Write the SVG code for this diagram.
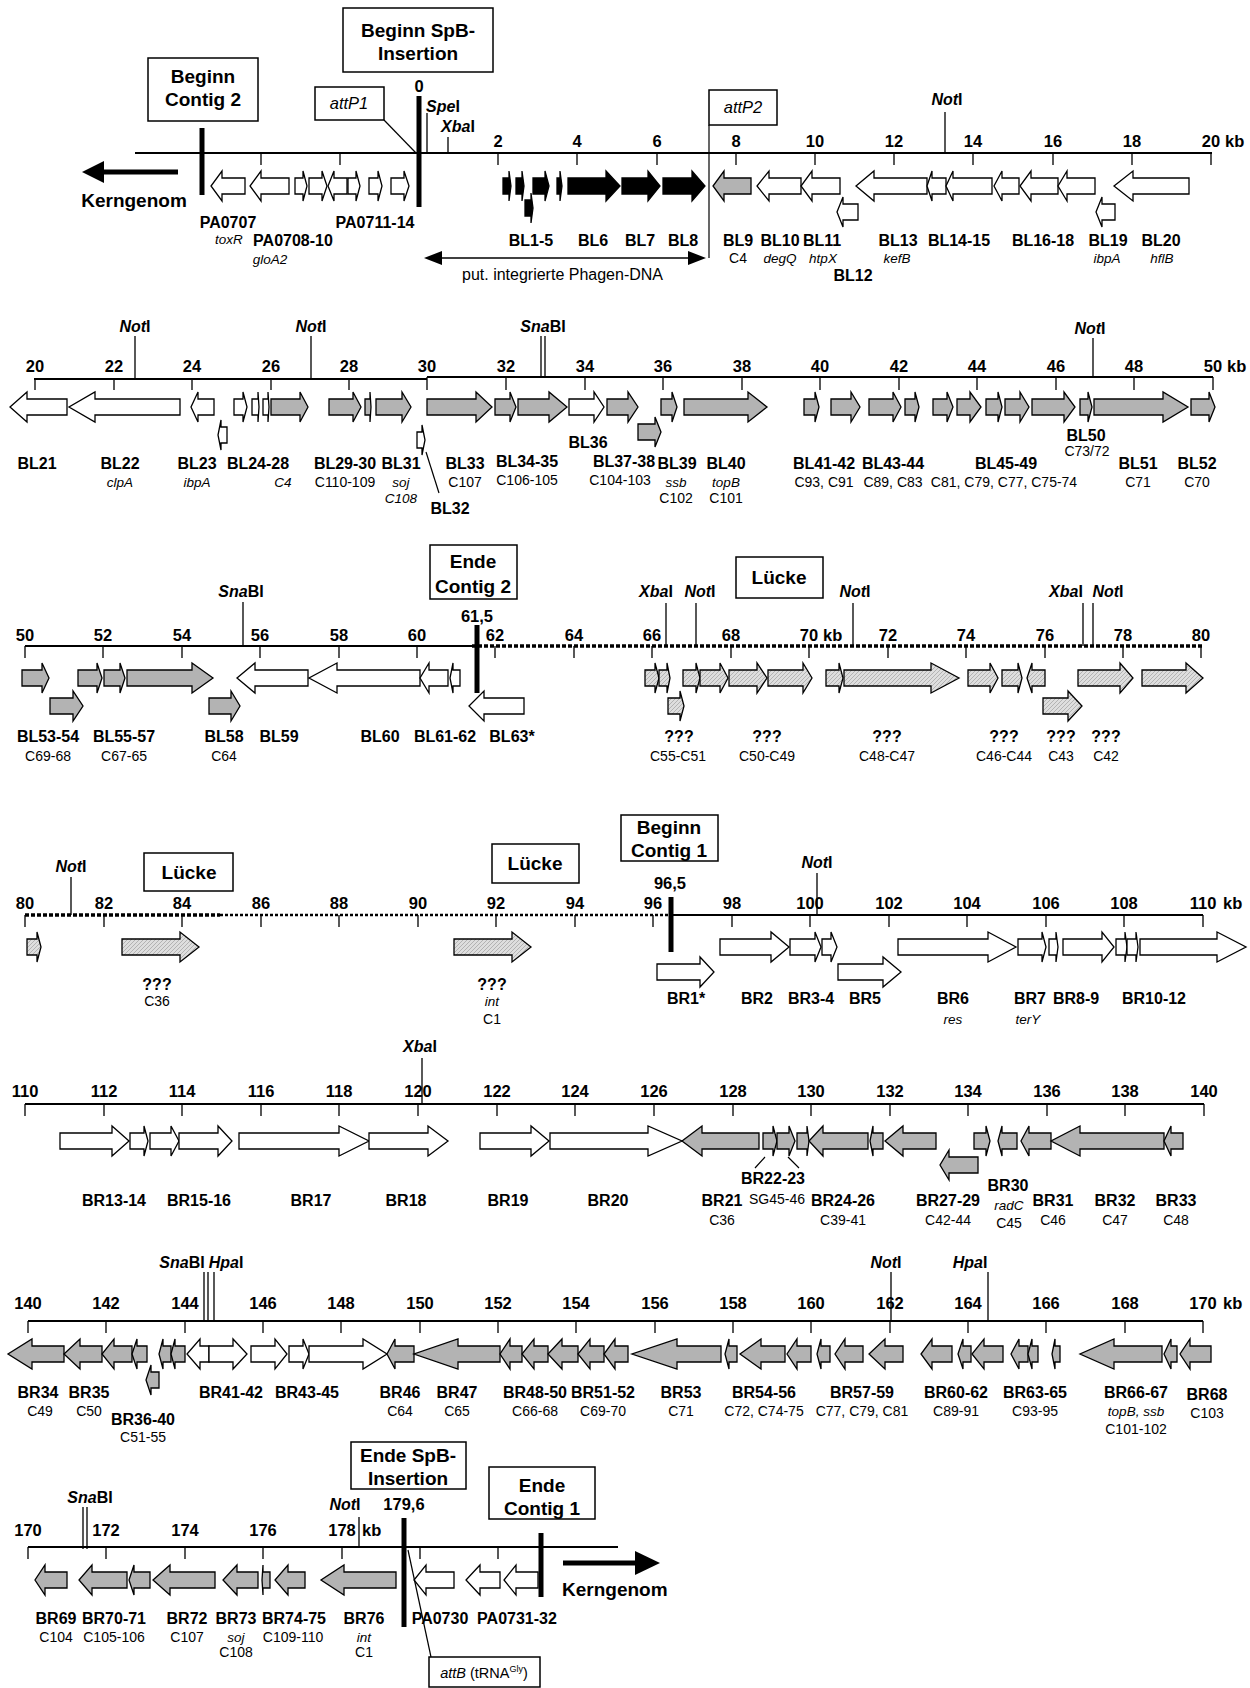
<svg xmlns="http://www.w3.org/2000/svg" width="1250" height="1688" viewBox="0 0 1250 1688">
<defs>
<pattern id="hatch" patternUnits="userSpaceOnUse" width="4" height="4">
<rect width="4" height="4" fill="#dedede"/>
<path d="M0 4L4 0M-1 1L1 -1M3 5L5 3" stroke="#a8a8a8" stroke-width="0.8"/>
</pattern>
<style>
text{font-family:"Liberation Sans",Arial,sans-serif;fill:#000}
.n{font-size:16.5px;font-weight:bold;text-anchor:middle}
.kb{font-size:16.5px;font-weight:bold}
.l{font-size:16px;font-weight:bold;text-anchor:middle}
.i{font-size:13.5px;font-style:italic;text-anchor:middle}
.c{font-size:14px;text-anchor:middle}
.s{font-size:16px;font-weight:bold;text-anchor:middle}
.b{font-size:19px;font-weight:bold;text-anchor:middle}
.bi{font-size:16.5px;font-style:italic;text-anchor:middle}
.ax{stroke:#000;stroke-width:2;fill:none}
.tk{stroke:#000;stroke-width:1.3;fill:none}
.dot{stroke:#000;stroke-width:3.5;stroke-dasharray:4 2;fill:none}
.dot2{stroke:#000;stroke-width:2.5;stroke-dasharray:3 2;fill:none}
.bar{stroke:#000;stroke-width:5}
.ln{stroke:#000;stroke-width:1.2;fill:none}
.box{fill:#fff;stroke:#000;stroke-width:1.5}
.w{fill:#fff;stroke:#000;stroke-width:1.3}
.g{fill:#b3b3b3;stroke:#000;stroke-width:1.3}
.k{fill:#000;stroke:#000;stroke-width:1.3}
.h{fill:url(#hatch);stroke:#000;stroke-width:1.3}
</style>
</defs>
<rect width="1250" height="1688" fill="#fff"/>

<!-- ================= ROW 1 ================= -->
<g id="row1-axis">
<path class="ax" d="M135 153H1212"/>
<path class="tk" d="M261 153v12M340 153v12M498 153v12M577 153v12M657 153v12M736 153v12M815 153v12M894 153v12M973 153v12M1053 153v12M1132 153v12M1211 153v12"/>
<path class="tk" d="M427 113V153M448 137V153M945 112V153"/>
<text class="n" x="419" y="92">0</text>
<text class="n" x="498" y="147">2</text><text class="n" x="577" y="147">4</text><text class="n" x="657" y="147">6</text><text class="n" x="736" y="147">8</text><text class="n" x="815" y="147">10</text><text class="n" x="894" y="147">12</text><text class="n" x="973" y="147">14</text><text class="n" x="1053" y="147">16</text><text class="n" x="1132" y="147">18</text><text class="n" x="1211" y="147">20</text><text class="kb" x="1225" y="147">kb</text>
<text class="s" x="443" y="112"><tspan font-style="italic">Spe</tspan>I</text>
<text class="s" x="458" y="132"><tspan font-style="italic">Xba</tspan>I</text>
<text class="s" x="947" y="105"><tspan font-style="italic">Not</tspan>I</text>
<line class="bar" x1="202" y1="128" x2="202" y2="195"/>
<line class="bar" x1="419" y1="96" x2="419" y2="207"/>
</g>
<g id="box-beginn-contig2"><rect class="box" x="148" y="58" width="110" height="63"/><text class="b" x="203" y="83">Beginn</text><text class="b" x="203" y="106">Contig 2</text></g>
<g id="box-beginn-spb"><rect class="box" x="343" y="8" width="150" height="64"/><text class="b" x="418" y="37">Beginn SpB-</text><text class="b" x="418" y="60">Insertion</text></g>
<g id="box-attP1"><rect class="box" x="315" y="87" width="69" height="33"/><text class="bi" x="349" y="109">attP1</text></g>
<g id="box-attP2"><rect class="box" x="709" y="90" width="68" height="35"/><text class="bi" x="743" y="113">attP2</text></g>
<g id="kerngenom-left"><text class="b" x="134" y="207">Kerngenom</text></g>
<g id="row1-genes" transform="translate(0,186)">
<g id="PA0707"><path class="w" d="M245 -8H222V-15L211 0L222 15V8H245Z"/></g>
<g id="PA0708-10"><path class="w" d="M289 -8H261V-15L250 0L261 15V8H289Z"/><path class="w" d="M295 -8H303V-15L307 0L303 15V8H295Z"/><path class="w" d="M309 -8H322V-15L327 0L322 15V8H309Z"/></g>
<g id="PA0711-14"><path class="w" d="M347 -8H334V-15L328 0L334 15V8H347Z"/><path class="w" d="M348 -8H356V-15L360 0L356 15V8H348Z"/><path class="w" d="M369 -8H378V-15L382 0L378 15V8H369Z"/><path class="w" d="M391 -8H404V-15L409 0L404 15V8H391Z"/></g>
<g id="BL1-5"><path class="k" d="M503 -8H509V-15L511 0L509 15V8H503Z"/><path class="k" d="M516 -8H522V-15L524 0L522 15V8H516Z"/><path class="k" d="M533 -8H545V-15L549 0L545 15V8H533Z"/><path class="k" d="M557 -8H560V-15L562 0L560 15V8H557Z"/><path class="k" transform="translate(0,22)" d="M525 -8H531V-15L533 0L531 15V8H525Z"/></g>
<g id="BL6"><path class="k" d="M568 -8H606V-15L620 0L606 15V8H568Z"/></g>
<g id="BL7"><path class="k" d="M622 -8H648V-15L660 0L648 15V8H622Z"/></g>
<g id="BL8"><path class="k" d="M663 -8H692V-15L705 0L692 15V8H663Z"/></g>
<g id="BL9"><path class="g" d="M751 -8H724V-15L713 0L724 15V8H751Z"/></g>
<g id="BL10"><path class="w" d="M801 -8H769V-15L757 0L769 15V8H801Z"/></g>
<g id="BL11"><path class="w" d="M840 -8H812V-15L801 0L812 15V8H840Z"/></g>
<g id="BL12"><path class="w" transform="translate(0,26)" d="M858 -8H843V-15L837 0L843 15V8H858Z"/></g>
<g id="BL13"><path class="w" d="M927 -8H874V-15L856 0L874 15V8H927Z"/></g>
<g id="BL14-15"><path class="w" d="M946 -8H932V-15L927 0L932 15V8H946Z"/><path class="w" d="M992 -8H953V-15L946 0L953 15V8H992Z"/></g>
<g id="BL16-18"><path class="w" d="M1019 -8H1002V-15L994 0L1002 15V8H1019Z"/><path class="w" d="M1058 -8H1031V-15L1020 0L1031 15V8H1058Z"/><path class="w" d="M1095 -8H1067V-15L1058 0L1067 15V8H1095Z"/></g>
<g id="BL19"><path class="w" transform="translate(0,26)" d="M1115 -8H1102V-15L1096 0L1102 15V8H1115Z"/></g>
<g id="BL20"><path class="w" d="M1189 -8H1133V-15L1114 0L1133 15V8H1189Z"/></g>
</g>
<g id="row1-labels">
<text class="l" x="228" y="228">PA0707</text><text class="i" x="229" y="244">toxR</text>
<text class="l" x="293" y="246">PA0708-10</text><text class="i" x="270" y="264">gloA2</text>
<text class="l" x="375" y="228">PA0711-14</text>
<text class="l" x="531" y="246">BL1-5</text><text class="l" x="593" y="246">BL6</text><text class="l" x="640" y="246">BL7</text><text class="l" x="683" y="246">BL8</text>
<text class="l" x="738" y="246">BL9</text><text class="c" x="738" y="263">C4</text>
<text class="l" x="780" y="246">BL10</text><text class="i" x="780" y="263">degQ</text>
<text class="l" x="822" y="246">BL11</text><text class="i" x="823" y="263">htpX</text>
<text class="l" x="853" y="281">BL12</text>
<text class="l" x="898" y="246">BL13</text><text class="i" x="897" y="263">kefB</text>
<text class="l" x="959" y="246">BL14-15</text>
<text class="l" x="1043" y="246">BL16-18</text>
<text class="l" x="1108" y="246">BL19</text><text class="i" x="1107" y="263">ibpA</text>
<text class="l" x="1161" y="246">BL20</text><text class="i" x="1162" y="263">hflB</text>
<text style="font-size:16px" x="462" y="280">put. integrierte Phagen-DNA</text>
</g>

<!-- ================= ROW 2 ================= -->
<g id="row2-axis">
<path class="ax" d="M34 379H427M427 377H1213"/>
<path class="tk" d="M35 379V390M114 379V390M192 379V390M271 379V390M349 379V390M427 377V390M506 377V390M585 377V390M663 377V390M742 377V390M820 377V390M899 377V390M977 377V390M1056 377V390M1134 377V390M1213 377V390"/>
<path class="tk" d="M135 336V379M311 336V379M1093 338V377"/>
<path class="tk" d="M541 336V377M545 336V377"/>
<text class="n" x="35" y="372">20</text><text class="n" x="114" y="372">22</text><text class="n" x="192" y="372">24</text><text class="n" x="271" y="372">26</text><text class="n" x="349" y="372">28</text><text class="n" x="427" y="372">30</text><text class="n" x="506" y="372">32</text><text class="n" x="585" y="372">34</text><text class="n" x="663" y="372">36</text><text class="n" x="742" y="372">38</text><text class="n" x="820" y="372">40</text><text class="n" x="899" y="372">42</text><text class="n" x="977" y="372">44</text><text class="n" x="1056" y="372">46</text><text class="n" x="1134" y="372">48</text><text class="n" x="1213" y="372">50</text><text class="kb" x="1227" y="372">kb</text>
<text class="s" x="135" y="332"><tspan font-style="italic">Not</tspan>I</text>
<text class="s" x="311" y="332"><tspan font-style="italic">Not</tspan>I</text>
<text class="s" x="543" y="332"><tspan font-style="italic">Sna</tspan>BI</text>
<text class="s" x="1090" y="334"><tspan font-style="italic">Not</tspan>I</text>
</g>
<g id="row2-genes" transform="translate(0,407)">
<g id="BL21"><path class="w" d="M67 -8H27V-15L10 0L27 15V8H67Z"/></g>
<g id="BL22"><path class="w" d="M180 -8H95V-15L69 0L95 15V8H180Z"/></g>
<g id="BL23"><path class="w" d="M214 -8H198V-15L191 0L198 15V8H214Z"/><path class="w" transform="translate(0,28)" d="M227 -8H221V-15L218 0L221 15V8H227Z"/></g>
<g id="BL24-28"><path class="w" d="M234 -8H243V-15L247 0L243 15V8H234Z"/><path class="w" d="M252 -8H258V-15L259 0L258 15V8H252Z"/><path class="w" d="M263 -8H268V-15L269 0L268 15V8H263Z"/><path class="g" d="M271 -8H300V-15L308 0L300 15V8H271Z"/></g>
<g id="BL29-30"><path class="g" d="M329 -8H353V-15L361 0L353 15V8H329Z"/><path class="g" d="M365 -8H370V-15L371 0L370 15V8H365Z"/></g>
<g id="BL31"><path class="g" d="M376 -8H402V-15L411 0L402 15V8H376Z"/></g>
<g id="BL32"><path class="w" transform="translate(0,33)" d="M417 -8H422V-15L425 0L422 15V8H417Z"/></g>
<g id="BL33"><path class="g" d="M427 -8H476V-15L492 0L476 15V8H427Z"/></g>
<g id="BL34-35"><path class="g" d="M495 -8H510V-15L516 0L510 15V8H495Z"/><path class="g" d="M518 -8H549V-15L567 0L549 15V8H518Z"/></g>
<g id="BL36"><path class="w" d="M569 -8H594V-15L604 0L594 15V8H569Z"/></g>
<g id="BL37-38"><path class="g" d="M607 -8H628V-15L638 0L628 15V8H607Z"/><path class="g" transform="translate(0,25)" d="M638 -8H655V-15L661 0L655 15V8H638Z"/></g>
<g id="BL39"><path class="g" d="M661 -8H672V-15L677 0L672 15V8H661Z"/></g>
<g id="BL40"><path class="g" d="M684 -8H748V-15L767 0L748 15V8H684Z"/></g>
<g id="BL41-42"><path class="g" d="M804 -8H815V-15L819 0L815 15V8H804Z"/><path class="g" d="M831 -8H851V-15L860 0L851 15V8H831Z"/></g>
<g id="BL43-44"><path class="g" d="M869 -8H893V-15L901 0L893 15V8H869Z"/><path class="g" d="M905 -8H915V-15L919 0L915 15V8H905Z"/></g>
<g id="BL45-49"><path class="g" d="M933 -8H947V-15L953 0L947 15V8H933Z"/><path class="g" d="M957 -8H970V-15L981 0L970 15V8H957Z"/><path class="g" d="M986 -8H998V-15L1002 0L998 15V8H986Z"/><path class="g" d="M1005 -8H1020V-15L1029 0L1020 15V8H1005Z"/><path class="g" d="M1032 -8H1064V-15L1075 0L1064 15V8H1032Z"/></g>
<g id="BL50"><path class="g" d="M1080 -8H1088V-15L1092 0L1088 15V8H1080Z"/></g>
<g id="BL51"><path class="g" d="M1094 -8H1163V-15L1188 0L1163 15V8H1094Z"/></g>
<g id="BL52"><path class="g" d="M1191 -8H1209V-15L1215 0L1209 15V8H1191Z"/></g>
</g>
<g id="row2-labels">
<text class="l" x="37" y="469">BL21</text>
<text class="l" x="120" y="469">BL22</text><text class="i" x="120" y="487">clpA</text>
<text class="l" x="197" y="469">BL23</text><text class="i" x="197" y="487">ibpA</text>
<text class="l" x="258" y="469">BL24-28</text><text class="i" x="283" y="487">C4</text>
<text class="l" x="345" y="469">BL29-30</text><text class="c" x="345" y="487">C110-109</text>
<text class="l" x="401" y="469">BL31</text><text class="i" x="401" y="487">soj</text><text class="i" x="401" y="503">C108</text>
<text class="l" x="450" y="514">BL32</text>
<text class="l" x="465" y="469">BL33</text><text class="c" x="465" y="487">C107</text>
<text class="l" x="527" y="467">BL34-35</text><text class="c" x="527" y="485">C106-105</text>
<text class="l" x="588" y="448">BL36</text>
<text class="l" x="624" y="467">BL37-38</text><text class="c" x="620" y="485">C104-103</text>
<text class="l" x="677" y="469">BL39</text><text class="i" x="676" y="487">ssb</text><text class="c" x="676" y="503">C102</text>
<text class="l" x="726" y="469">BL40</text><text class="i" x="726" y="487">topB</text><text class="c" x="726" y="503">C101</text>
<text class="l" x="824" y="469">BL41-42</text><text class="c" x="824" y="487">C93, C91</text>
<text class="l" x="893" y="469">BL43-44</text><text class="c" x="893" y="487">C89, C83</text>
<text class="l" x="1006" y="469">BL45-49</text><text class="c" x="1004" y="487">C81, C79, C77, C75-74</text>
<text class="l" x="1086" y="441">BL50</text><text class="c" x="1087" y="456">C73/72</text>
<text class="l" x="1138" y="469">BL51</text><text class="c" x="1138" y="487">C71</text>
<text class="l" x="1197" y="469">BL52</text><text class="c" x="1197" y="487">C70</text>
</g>

<!-- ================= ROW 3 ================= -->
<g id="row3-axis">
<path class="ax" d="M25 646H472"/>
<path class="dot" d="M472 646H1202"/>
<path class="tk" d="M25 646V658M103 646V658M182 646V658M260 646V658M339 646V658M417 646V658M495 646V658M574 646V658M652 646V658M731 646V658M809 646V658M888 646V658M966 646V658M1045 646V658M1123 646V658M1201 646V658"/>
<path class="tk" d="M243 602V646M666 603V646M696 603V646M853 603V646M1083 603V646M1093 603V646"/>
<text class="n" x="25" y="641">50</text><text class="n" x="103" y="641">52</text><text class="n" x="182" y="641">54</text><text class="n" x="260" y="641">56</text><text class="n" x="339" y="641">58</text><text class="n" x="417" y="641">60</text><text class="n" x="495" y="641">62</text><text class="n" x="574" y="641">64</text><text class="n" x="652" y="641">66</text><text class="n" x="731" y="641">68</text><text class="n" x="809" y="641">70</text><text class="kb" x="823" y="641">kb</text><text class="n" x="888" y="641">72</text><text class="n" x="966" y="641">74</text><text class="n" x="1045" y="641">76</text><text class="n" x="1123" y="641">78</text><text class="n" x="1201" y="641">80</text>
<text class="n" x="477" y="622">61,5</text>
<text class="s" x="241" y="597"><tspan font-style="italic">Sna</tspan>BI</text>
<text class="s" x="656" y="597"><tspan font-style="italic">Xba</tspan>I</text>
<text class="s" x="700" y="597"><tspan font-style="italic">Not</tspan>I</text>
<text class="s" x="855" y="597"><tspan font-style="italic">Not</tspan>I</text>
<text class="s" x="1066" y="597"><tspan font-style="italic">Xba</tspan>I</text>
<text class="s" x="1108" y="597"><tspan font-style="italic">Not</tspan>I</text>
<line class="bar" x1="477" y1="625" x2="477" y2="693"/>
</g>
<g id="box-ende-contig2"><rect class="box" x="430" y="545" width="87" height="54"/><text class="b" x="473" y="568">Ende</text><text class="b" x="473" y="593">Contig 2</text></g>
<g id="box-luecke-1"><rect class="box" x="736" y="557" width="87" height="41"/><text class="b" x="779" y="584">Lücke</text></g>
<g id="row3-genes" transform="translate(0,678)">
<g id="BL53-54"><path class="g" d="M22 -8H42V-15L49 0L42 15V8H22Z"/><path class="g" transform="translate(0,28)" d="M50 -8H73V-15L83 0L73 15V8H50Z"/></g>
<g id="BL55-57"><path class="g" d="M78 -8H97V-15L102 0L97 15V8H78Z"/><path class="g" d="M104 -8H120V-15L125 0L120 15V8H104Z"/><path class="g" d="M127 -8H192V-15L213 0L192 15V8H127Z"/></g>
<g id="BL58"><path class="g" transform="translate(0,28)" d="M209 -8H231V-15L240 0L231 15V8H209Z"/></g>
<g id="BL59"><path class="w" d="M308 -8H255V-15L237 0L255 15V8H308Z"/></g>
<g id="BL60"><path class="w" d="M420 -8H337V-15L309 0L337 15V8H420Z"/></g>
<g id="BL61-62"><path class="w" d="M448 -8H429V-15L420 0L429 15V8H448Z"/><path class="w" d="M460 -8H453V-15L450 0L453 15V8H460Z"/></g>
<g id="BL63"><path class="w" transform="translate(0,28)" d="M524 -8H484V-15L469 0L484 15V8H524Z"/></g>
<g id="C55-C51"><path class="h" d="M645 -8H655V-15L659 0L655 15V8H645Z"/><path class="h" d="M659 -8H667V-15L670 0L667 15V8H659Z"/><path class="h" transform="translate(0,28)" d="M668 -8H680V-15L684 0L680 15V8H668Z"/><path class="h" d="M683 -8H696V-15L700 0L696 15V8H683Z"/><path class="h" d="M700 -8H720V-15L728 0L720 15V8H700Z"/></g>
<g id="C50-C49"><path class="h" d="M729 -8H757V-15L767 0L757 15V8H729Z"/><path class="h" d="M768 -8H803V-15L812 0L803 15V8H768Z"/></g>
<g id="C48-C47"><path class="h" d="M826 -8H839V-15L843 0L839 15V8H826Z"/><path class="h" d="M844 -8H931V-15L959 0L931 15V8H844Z"/></g>
<g id="C46-C44"><path class="h" d="M968 -8H990V-15L998 0L990 15V8H968Z"/><path class="h" d="M1002 -8H1018V-15L1022 0L1018 15V8H1002Z"/><path class="h" d="M1045 -8H1032V-15L1027 0L1032 15V8H1045Z"/></g>
<g id="C43"><path class="h" transform="translate(0,28)" d="M1043 -8H1068V-15L1082 0L1068 15V8H1043Z"/></g>
<g id="C42"><path class="h" d="M1078 -8H1120V-15L1133 0L1120 15V8H1078Z"/><path class="h" d="M1142 -8H1186V-15L1203 0L1186 15V8H1142Z"/></g>
</g>
<g id="row3-labels">
<text class="l" x="48" y="742">BL53-54</text><text class="c" x="48" y="761">C69-68</text>
<text class="l" x="124" y="742">BL55-57</text><text class="c" x="124" y="761">C67-65</text>
<text class="l" x="224" y="742">BL58</text><text class="c" x="224" y="761">C64</text>
<text class="l" x="279" y="742">BL59</text>
<text class="l" x="380" y="742">BL60</text>
<text class="l" x="445" y="742">BL61-62</text>
<text class="l" x="512" y="742">BL63*</text>
<text class="l" x="679" y="742">???</text><text class="c" x="678" y="761">C55-C51</text>
<text class="l" x="767" y="742">???</text><text class="c" x="767" y="761">C50-C49</text>
<text class="l" x="887" y="742">???</text><text class="c" x="887" y="761">C48-C47</text>
<text class="l" x="1004" y="742">???</text><text class="c" x="1004" y="761">C46-C44</text>
<text class="l" x="1061" y="742">???</text><text class="c" x="1061" y="761">C43</text>
<text class="l" x="1106" y="742">???</text><text class="c" x="1106" y="761">C42</text>
</g>

<!-- ================= ROW 4 ================= -->
<g id="row4-axis">
<path class="dot" d="M25 915H220"/>
<path class="dot2" d="M220 915H671"/>
<path class="ax" d="M671 915H1203"/>
<path class="tk" d="M25 915V927M104 915V927M182 915V927M261 915V927M339 915V927M418 915V927M496 915V927M575 915V927M653 915V927M732 915V927M810 915V927M889 915V927M967 915V927M1046 915V927M1124 915V927M1203 915V927"/>
<path class="tk" d="M71 877V915M817 873V915"/>
<text class="n" x="25" y="909">80</text><text class="n" x="104" y="909">82</text><text class="n" x="182" y="909">84</text><text class="n" x="261" y="909">86</text><text class="n" x="339" y="909">88</text><text class="n" x="418" y="909">90</text><text class="n" x="496" y="909">92</text><text class="n" x="575" y="909">94</text><text class="n" x="653" y="909">96</text><text class="n" x="732" y="909">98</text><text class="n" x="810" y="909">100</text><text class="n" x="889" y="909">102</text><text class="n" x="967" y="909">104</text><text class="n" x="1046" y="909">106</text><text class="n" x="1124" y="909">108</text><text class="n" x="1203" y="909">110</text><text class="kb" x="1223" y="909">kb</text>
<text class="n" x="670" y="889">96,5</text>
<text class="s" x="71" y="872"><tspan font-style="italic">Not</tspan>I</text>
<text class="s" x="817" y="868"><tspan font-style="italic">Not</tspan>I</text>
<line class="bar" x1="671" y1="897" x2="671" y2="952"/>
</g>
<g id="box-luecke-2"><rect class="box" x="144" y="853" width="89" height="38"/><text class="b" x="189" y="879">Lücke</text></g>
<g id="box-luecke-3"><rect class="box" x="492" y="844" width="87" height="39"/><text class="b" x="535" y="870">Lücke</text></g>
<g id="box-beginn-contig1"><rect class="box" x="621" y="815" width="97" height="46"/><text class="b" x="669" y="834">Beginn</text><text class="b" x="669" y="857">Contig 1</text></g>
<g id="row4-genes" transform="translate(0,947)">
<g id="gap-gene-1"><path class="h" d="M27 -8H37V-15L41 0L37 15V8H27Z"/></g>
<g id="C36-gap"><path class="h" d="M122 -8H180V-15L199 0L180 15V8H122Z"/></g>
<g id="C1-gap"><path class="h" d="M454 -8H512V-15L531 0L512 15V8H454Z"/></g>
<g id="BR1"><path class="w" transform="translate(0,25)" d="M657 -8H700V-15L714 0L700 15V8H657Z"/></g>
<g id="BR2"><path class="w" d="M720 -8H771V-15L789 0L771 15V8H720Z"/></g>
<g id="BR3-4"><path class="w" d="M790 -8H815V-15L821 0L815 15V8H790Z"/><path class="w" d="M822 -8H831V-15L837 0L831 15V8H822Z"/></g>
<g id="BR5"><path class="w" transform="translate(0,25)" d="M838 -8H883V-15L901 0L883 15V8H838Z"/></g>
<g id="BR6"><path class="w" d="M898 -8H988V-15L1016 0L988 15V8H898Z"/></g>
<g id="BR7"><path class="w" d="M1018 -8H1042V-15L1046 0L1042 15V8H1018Z"/><path class="w" d="M1049 -8H1056V-15L1058 0L1056 15V8H1049Z"/></g>
<g id="BR8-9"><path class="w" d="M1063 -8H1102V-15L1114 0L1102 15V8H1063Z"/></g>
<g id="BR10-12"><path class="w" d="M1116 -8H1125V-15L1127 0L1125 15V8H1116Z"/><path class="w" d="M1127 -8H1136V-15L1138 0L1136 15V8H1127Z"/><path class="w" d="M1140 -8H1217V-15L1246 0L1217 15V8H1140Z"/></g>
</g>
<g id="row4-labels">
<text class="l" x="157" y="990">???</text><text class="c" x="157" y="1006">C36</text>
<text class="l" x="492" y="990">???</text><text class="i" x="492" y="1006">int</text><text class="c" x="492" y="1024">C1</text>
<text class="l" x="686" y="1004">BR1*</text>
<text class="l" x="757" y="1004">BR2</text>
<text class="l" x="811" y="1004">BR3-4</text>
<text class="l" x="865" y="1004">BR5</text>
<text class="l" x="953" y="1004">BR6</text><text class="i" x="953" y="1024">res</text>
<text class="l" x="1030" y="1004">BR7</text><text class="i" x="1028" y="1024">terY</text>
<text class="l" x="1076" y="1004">BR8-9</text>
<text class="l" x="1154" y="1004">BR10-12</text>
</g>

<!-- ================= ROW 5 ================= -->
<g id="row5-axis">
<path class="ax" d="M25 1104H1204"/>
<path class="tk" d="M25 1104V1116M104 1104V1116M182 1104V1116M261 1104V1116M339 1104V1116M418 1104V1116M497 1104V1116M575 1104V1116M654 1104V1116M733 1104V1116M811 1104V1116M890 1104V1116M968 1104V1116M1047 1104V1116M1125 1104V1116M1204 1104V1116"/>
<path class="tk" d="M422 1058V1104"/>
<text class="n" x="25" y="1097">110</text><text class="n" x="104" y="1097">112</text><text class="n" x="182" y="1097">114</text><text class="n" x="261" y="1097">116</text><text class="n" x="339" y="1097">118</text><text class="n" x="418" y="1097">120</text><text class="n" x="497" y="1097">122</text><text class="n" x="575" y="1097">124</text><text class="n" x="654" y="1097">126</text><text class="n" x="733" y="1097">128</text><text class="n" x="811" y="1097">130</text><text class="n" x="890" y="1097">132</text><text class="n" x="968" y="1097">134</text><text class="n" x="1047" y="1097">136</text><text class="n" x="1125" y="1097">138</text><text class="n" x="1204" y="1097">140</text>
<text class="s" x="420" y="1052"><tspan font-style="italic">Xba</tspan>I</text>
</g>
<g id="row5-genes" transform="translate(0,1141)">
<g id="BR13-14"><path class="w" d="M60 -8H112V-15L129 0L112 15V8H60Z"/><path class="w" d="M130 -8H144V-15L148 0L144 15V8H130Z"/></g>
<g id="BR15-16"><path class="w" d="M150 -8H171V-15L179 0L171 15V8H150Z"/><path class="w" d="M179 -8H218V-15L232 0L218 15V8H179Z"/></g>
<g id="BR17"><path class="w" d="M239 -8H339V-15L369 0L339 15V8H239Z"/></g>
<g id="BR18"><path class="w" d="M369 -8H428V-15L448 0L428 15V8H369Z"/></g>
<g id="BR19"><path class="w" d="M480 -8H531V-15L549 0L531 15V8H480Z"/></g>
<g id="BR20"><path class="w" d="M550 -8H648V-15L682 0L648 15V8H550Z"/></g>
<g id="BR21"><path class="g" d="M759 -8H702V-15L682 0L702 15V8H759Z"/></g>
<g id="BR22-23"><path class="g" d="M763 -8H773V-15L777 0L773 15V8H763Z"/><path class="g" d="M777 -8H789V-15L795 0L789 15V8H777Z"/></g>
<g id="BR24-26"><path class="g" d="M797 -8H807V-15L809 0L807 15V8H797Z"/><path class="g" d="M868 -8H823V-15L809 0L823 15V8H868Z"/><path class="g" d="M883 -8H873V-15L870 0L873 15V8H883Z"/></g>
<g id="BR27-29"><path class="g" d="M936 -8H903V-15L885 0L903 15V8H936Z"/><path class="g" transform="translate(0,24)" d="M978 -8H949V-15L940 0L949 15V8H978Z"/><path class="g" d="M974 -8H986V-15L990 0L986 15V8H974Z"/></g>
<g id="BR30"><path class="g" d="M1017 -8H1002V-15L998 0L1002 15V8H1017Z"/></g>
<g id="BR31"><path class="g" d="M1051 -8H1029V-15L1021 0L1029 15V8H1051Z"/></g>
<g id="BR32"><path class="g" d="M1164 -8H1080V-15L1051 0L1080 15V8H1164Z"/></g>
<g id="BR33"><path class="g" d="M1183 -8H1171V-15L1164 0L1171 15V8H1183Z"/></g>
</g>
<g id="row5-labels">
<text class="l" x="114" y="1206">BR13-14</text>
<text class="l" x="199" y="1206">BR15-16</text>
<text class="l" x="311" y="1206">BR17</text>
<text class="l" x="406" y="1206">BR18</text>
<text class="l" x="508" y="1206">BR19</text>
<text class="l" x="608" y="1206">BR20</text>
<text class="l" x="722" y="1206">BR21</text><text class="c" x="722" y="1225">C36</text>
<text class="l" x="773" y="1184">BR22-23</text><text class="c" x="777" y="1204">SG45-46</text>
<text class="l" x="843" y="1206">BR24-26</text><text class="c" x="843" y="1225">C39-41</text>
<text class="l" x="948" y="1206">BR27-29</text><text class="c" x="948" y="1225">C42-44</text>
<text class="l" x="1008" y="1191">BR30</text><text class="i" x="1009" y="1210">radC</text><text class="c" x="1009" y="1228">C45</text>
<text class="l" x="1053" y="1206">BR31</text><text class="c" x="1053" y="1225">C46</text>
<text class="l" x="1115" y="1206">BR32</text><text class="c" x="1115" y="1225">C47</text>
<text class="l" x="1176" y="1206">BR33</text><text class="c" x="1176" y="1225">C48</text>
</g>

<!-- ================= ROW 6 ================= -->
<g id="row6-axis">
<path class="ax" d="M28 1321H1203"/>
<path class="tk" d="M28 1321V1333M106 1321V1333M185 1321V1333M263 1321V1333M341 1321V1333M420 1321V1333M498 1321V1333M576 1321V1333M655 1321V1333M733 1321V1333M811 1321V1333M890 1321V1333M968 1321V1333M1046 1321V1333M1125 1321V1333M1203 1321V1333"/>
<path class="tk" d="M204 1272V1321M208 1272V1321M214 1272V1321M891 1272V1321M988 1272V1321"/>
<text class="n" x="28" y="1309">140</text><text class="n" x="106" y="1309">142</text><text class="n" x="185" y="1309">144</text><text class="n" x="263" y="1309">146</text><text class="n" x="341" y="1309">148</text><text class="n" x="420" y="1309">150</text><text class="n" x="498" y="1309">152</text><text class="n" x="576" y="1309">154</text><text class="n" x="655" y="1309">156</text><text class="n" x="733" y="1309">158</text><text class="n" x="811" y="1309">160</text><text class="n" x="890" y="1309">162</text><text class="n" x="968" y="1309">164</text><text class="n" x="1046" y="1309">166</text><text class="n" x="1125" y="1309">168</text><text class="n" x="1203" y="1309">170</text><text class="kb" x="1223" y="1309">kb</text>
<text class="s" x="182" y="1268"><tspan font-style="italic">Sna</tspan>BI</text>
<text class="s" x="226" y="1268"><tspan font-style="italic">Hpa</tspan>I</text>
<text class="s" x="886" y="1268"><tspan font-style="italic">Not</tspan>I</text>
<text class="s" x="970" y="1268"><tspan font-style="italic">Hpa</tspan>I</text>
</g>
<g id="row6-genes" transform="translate(0,1354)">
<g id="BR34"><path class="g" d="M64 -8H32V-15L8 0L32 15V8H64Z"/></g>
<g id="BR35"><path class="g" d="M102 -8H80V-15L64 0L80 15V8H102Z"/></g>
<g id="BR36-40"><path class="g" d="M132 -8H114V-15L102 0L114 15V8H132Z"/><path class="g" d="M147 -8H137V-15L132 0L137 15V8H147Z"/><path class="g" transform="translate(0,26)" d="M159 -8H151V-15L146 0L151 15V8H159Z"/><path class="g" d="M171 -8H163V-15L159 0L163 15V8H171Z"/><path class="g" d="M185 -8H175V-15L171 0L175 15V8H185Z"/></g>
<g id="BR41-42"><path class="w" d="M209 -8H200V-15L187 0L200 15V8H209Z"/><path class="w" d="M209 -8H233V-15L247 0L233 15V8H209Z"/></g>
<g id="BR43-45"><path class="w" d="M251 -8H275V-15L287 0L275 15V8H251Z"/><path class="w" d="M289 -8H303V-15L309 0L303 15V8H289Z"/><path class="w" d="M309 -8H363V-15L387 0L363 15V8H309Z"/></g>
<g id="BR46"><path class="g" d="M414 -8H395V-15L387 0L395 15V8H414Z"/></g>
<g id="BR47"><path class="g" d="M500 -8H458V-15L414 0L458 15V8H500Z"/></g>
<g id="BR48-50"><path class="g" d="M522 -8H510V-15L500 0L510 15V8H522Z"/><path class="g" d="M548 -8H534V-15L522 0L534 15V8H548Z"/><path class="g" d="M578 -8H562V-15L548 0L562 15V8H578Z"/></g>
<g id="BR51-52"><path class="g" d="M604 -8H590V-15L578 0L590 15V8H604Z"/><path class="g" d="M628 -8H615V-15L604 0L615 15V8H628Z"/></g>
<g id="BR53"><path class="g" d="M721 -8H677V-15L632 0L677 15V8H721Z"/></g>
<g id="BR54-56"><path class="g" d="M737 -8H729V-15L725 0L729 15V8H737Z"/><path class="g" d="M785 -8H761V-15L740 0L761 15V8H785Z"/><path class="g" d="M811 -8H797V-15L787 0L797 15V8H811Z"/></g>
<g id="BR57-59"><path class="g" d="M830 -8H821V-15L817 0L821 15V8H830Z"/><path class="g" d="M863 -8H845V-15L835 0L845 15V8H863Z"/><path class="g" d="M903 -8H885V-15L869 0L885 15V8H903Z"/></g>
<g id="BR60-62"><path class="g" d="M952 -8H932V-15L921 0L932 15V8H952Z"/><path class="g" d="M971 -8H963V-15L958 0L963 15V8H971Z"/><path class="g" d="M1003 -8H984V-15L972 0L984 15V8H1003Z"/></g>
<g id="BR63-65"><path class="g" d="M1028 -8H1019V-15L1011 0L1019 15V8H1028Z"/><path class="g" d="M1038 -8H1032V-15L1028 0L1032 15V8H1038Z"/><path class="g" d="M1060 -8H1055V-15L1052 0L1055 15V8H1060Z"/></g>
<g id="BR66-67"><path class="g" d="M1162 -8H1114V-15L1080 0L1114 15V8H1162Z"/><path class="g" d="M1177 -8H1171V-15L1164 0L1171 15V8H1177Z"/></g>
<g id="BR68"><path class="g" d="M1211 -8H1190V-15L1180 0L1190 15V8H1211Z"/></g>
</g>
<g id="row6-labels">
<text class="l" x="38" y="1398">BR34</text><text class="c" x="40" y="1416">C49</text>
<text class="l" x="89" y="1398">BR35</text><text class="c" x="89" y="1416">C50</text>
<text class="l" x="143" y="1425">BR36-40</text><text class="c" x="143" y="1442">C51-55</text>
<text class="l" x="231" y="1398">BR41-42</text>
<text class="l" x="307" y="1398">BR43-45</text>
<text class="l" x="400" y="1398">BR46</text><text class="c" x="400" y="1416">C64</text>
<text class="l" x="457" y="1398">BR47</text><text class="c" x="457" y="1416">C65</text>
<text class="l" x="535" y="1398">BR48-50</text><text class="c" x="535" y="1416">C66-68</text>
<text class="l" x="603" y="1398">BR51-52</text><text class="c" x="603" y="1416">C69-70</text>
<text class="l" x="681" y="1398">BR53</text><text class="c" x="681" y="1416">C71</text>
<text class="l" x="764" y="1398">BR54-56</text><text class="c" x="764" y="1416">C72, C74-75</text>
<text class="l" x="862" y="1398">BR57-59</text><text class="c" x="862" y="1416">C77, C79, C81</text>
<text class="l" x="956" y="1398">BR60-62</text><text class="c" x="956" y="1416">C89-91</text>
<text class="l" x="1035" y="1398">BR63-65</text><text class="c" x="1035" y="1416">C93-95</text>
<text class="l" x="1136" y="1398">BR66-67</text><text class="i" x="1136" y="1416">topB, ssb</text><text class="c" x="1136" y="1434">C101-102</text>
<text class="l" x="1207" y="1400">BR68</text><text class="c" x="1207" y="1418">C103</text>
</g>

<!-- ================= ROW 7 ================= -->
<g id="row7-axis">
<path class="ax" d="M28 1547H618"/>
<path class="tk" d="M28 1547V1559M106 1547V1559M185 1547V1559M263 1547V1559M342 1547V1559M420 1547V1559M498 1547V1559"/>
<path class="tk" d="M83 1507V1549M87 1507V1549M359 1517V1547"/>
<text class="n" x="28" y="1536">170</text><text class="n" x="106" y="1536">172</text><text class="n" x="185" y="1536">174</text><text class="n" x="263" y="1536">176</text><text class="n" x="342" y="1536">178</text><text class="kb" x="362" y="1536">kb</text>
<text class="n" x="404" y="1510">179,6</text>
<text class="s" x="90" y="1503"><tspan font-style="italic">Sna</tspan>BI</text>
<text class="s" x="345" y="1510"><tspan font-style="italic">Not</tspan>I</text>
<line class="bar" x1="404" y1="1518" x2="404" y2="1627"/>
<line class="bar" x1="541" y1="1533" x2="541" y2="1597"/>
</g>
<g id="box-ende-spb"><rect class="box" x="351" y="1442" width="115" height="47"/><text class="b" x="408" y="1462">Ende SpB-</text><text class="b" x="408" y="1485">Insertion</text></g>
<g id="box-ende-contig1"><rect class="box" x="489" y="1467" width="106" height="52"/><text class="b" x="542" y="1492">Ende</text><text class="b" x="542" y="1515">Contig 1</text></g>
<g id="box-attB"><rect class="box" x="429" y="1657" width="111" height="30"/><text style="font-size:14.5px;text-anchor:middle" x="484" y="1678"><tspan font-style="italic">attB</tspan> (tRNA<tspan font-size="9" dy="-6">Gly</tspan><tspan dy="6">)</tspan></text></g>
<g id="kerngenom-right"><text class="b" x="562" y="1596" style="text-anchor:start">Kerngenom</text></g>
<g id="row7-genes" transform="translate(0,1580)">
<g id="BR69"><path class="g" d="M67 -8H45V-15L35 0L45 15V8H67Z"/></g>
<g id="BR70-71"><path class="g" d="M127 -8H92V-15L79 0L92 15V8H127Z"/><path class="g" d="M150 -8H134V-15L129 0L134 15V8H150Z"/></g>
<g id="BR72"><path class="g" d="M215 -8H170V-15L153 0L170 15V8H215Z"/></g>
<g id="BR73"><path class="g" d="M258 -8H237V-15L223 0L237 15V8H258Z"/></g>
<g id="BR74-75"><path class="g" d="M270 -8H263V-15L262 0L263 15V8H270Z"/><path class="g" d="M305 -8H288V-15L275 0L288 15V8H305Z"/></g>
<g id="BR76"><path class="g" d="M396 -8H344V-15L321 0L344 15V8H396Z"/></g>
<g id="PA0730"><path class="w" d="M454 -8H426V-15L414 0L426 15V8H454Z"/></g>
<g id="PA0731-32"><path class="w" d="M500 -8H480V-15L466 0L480 15V8H500Z"/><path class="w" d="M538 -8H516V-15L504 0L516 15V8H538Z"/></g>
</g>
<g id="row7-labels">
<text class="l" x="56" y="1624">BR69</text><text class="c" x="56" y="1642">C104</text>
<text class="l" x="114" y="1624">BR70-71</text><text class="c" x="114" y="1642">C105-106</text>
<text class="l" x="187" y="1624">BR72</text><text class="c" x="187" y="1642">C107</text>
<text class="l" x="236" y="1624">BR73</text><text class="i" x="236" y="1642">soj</text><text class="c" x="236" y="1657">C108</text>
<text class="l" x="294" y="1624">BR74-75</text><text class="c" x="293" y="1642">C109-110</text>
<text class="l" x="364" y="1624">BR76</text><text class="i" x="364" y="1642">int</text><text class="c" x="364" y="1657">C1</text>
<text class="l" x="440" y="1624">PA0730</text>
<text class="l" x="517" y="1624">PA0731-32</text>
</g>

<!-- ================= CONNECTORS ================= -->
<g id="connectors">
<path class="ln" d="M384 120L416 153"/>
<path class="ln" d="M709 125V258"/>
<path class="ln" style="stroke-width:1.5" d="M440 258H690"/>
<path d="M424 258L442 251V265Z M706 258L688 251V265Z" fill="#000"/>
<path class="ln" d="M426 452L439 493"/>
<path class="ln" d="M765 1157L755 1168M788 1157L799 1168"/>
<path class="ln" d="M408 1550L431 1657"/>
<path stroke="#000" stroke-width="5" d="M178 172H100"/>
<path d="M82 172L104 161V183Z" fill="#000"/>
<path stroke="#000" stroke-width="5" d="M563 1563H638"/>
<path d="M660 1563L635 1551V1575Z" fill="#000"/>
</g>
</svg>
